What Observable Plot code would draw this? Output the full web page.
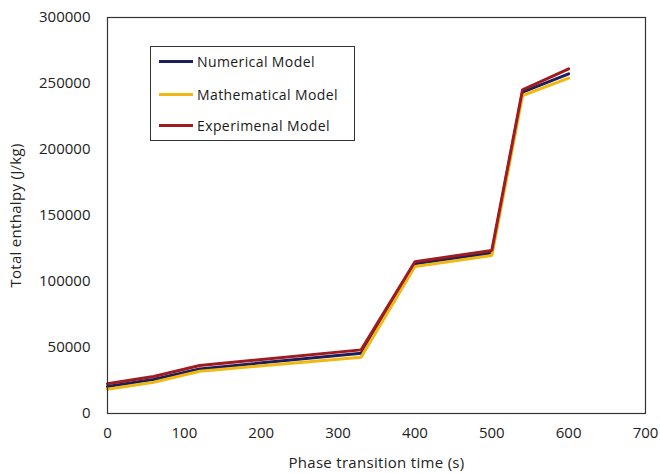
<!DOCTYPE html>
<html>
<head>
<meta charset="utf-8">
<script src="https://cdn.jsdelivr.net/npm/d3@7"></script>
<script src="https://cdn.jsdelivr.net/npm/@observablehq/plot@0.6"></script>
<style>
  html, body { margin: 0; padding: 0; background: #fff; }
  #wrap { position: relative; width: 660px; height: 473px; }
  #legend {
    position: absolute; left: 150px; top: 46px; width: 205px; height: 95px;
    border: 1px solid #333; box-sizing: border-box; background: #fff;
    font-family: "Open Sans", sans-serif; font-size: 14px; color: #1a1a1a;
    letter-spacing: 0.4px;
  }
  .row { position: absolute; left: 8px; display: flex; align-items: center; }
  .sw { width: 34px; height: 3px; margin-right: 4px; }
  svg [aria-label="x-axis label"] text, svg [aria-label="y-axis label"] text { font-size: 15px; letter-spacing: 0.3px; }
</style>
</head>
<body>
<div id="wrap"></div>
<script>
const time = [0, 60, 120, 330, 400, 500, 540, 600];
const numerical = [20500, 25700, 33800, 45700, 113400, 121600, 243400, 257300];
const mathematical = [18400, 23700, 32000, 42700, 111400, 119700, 240900, 254000];
const experimental = [22500, 28000, 36400, 48200, 115000, 123500, 245200, 261100];
const seriesNames = ["Numerical Model", "Mathematical Model", "Experimenal Model"];
const seriesColors = ["#1c1f5c", "#f0b810", "#9e1b20"];
const xTicks = [0, 100, 200, 300, 400, 500, 600, 700];
const yTicks = [0, 50000, 100000, 150000, 200000, 250000, 300000];

const seriesValues = [numerical, mathematical, experimental];
const rows = [];
seriesNames.forEach((name, si) => {
  time.forEach((t, i) => rows.push({series: name, time: t, value: seriesValues[si][i]}));
});

const chart = Plot.plot({
  width: 660,
  height: 473,
  marginLeft: 107,
  marginRight: 15,
  marginTop: 17,
  marginBottom: 60,
  style: {fontFamily: "'Open Sans', sans-serif", fontSize: "15px", color: "#222", background: "#fff"},
  x: {domain: [0, 700]},
  y: {domain: [0, 300000]},
  color: {domain: seriesNames, range: seriesColors},
  marks: [
    Plot.axisX({ticks: xTicks, tickSize: 0, tickPadding: 14, tickFormat: d => String(d),
      label: "Phase transition time (s)", labelAnchor: "center", labelOffset: 54, labelArrow: "none"}),
    Plot.axisY({ticks: yTicks, tickSize: 0, tickPadding: 17, tickFormat: d => String(d),
      label: "Total enthalpy (J/kg)", labelAnchor: "center", labelOffset: 97, labelArrow: "none"}),
    Plot.line(rows, {x: "time", y: "value", z: "series", stroke: "series", strokeWidth: 3, strokeLinejoin: "miter"}),
    Plot.frame({stroke: "#333", strokeWidth: 1.2})
  ]
});
document.getElementById("wrap").appendChild(chart);

const legend = document.createElement("div");
legend.id = "legend";
const tops = [5, 38, 69];
seriesNames.forEach((name, i) => {
  const r = document.createElement("div");
  r.className = "row";
  r.style.top = tops[i] + "px";
  const sw = document.createElement("div");
  sw.className = "sw";
  sw.style.background = seriesColors[i];
  const tx = document.createElement("span");
  tx.textContent = name;
  r.appendChild(sw); r.appendChild(tx);
  legend.appendChild(r);
});
document.getElementById("wrap").appendChild(legend);
</script>
</body>
</html>
